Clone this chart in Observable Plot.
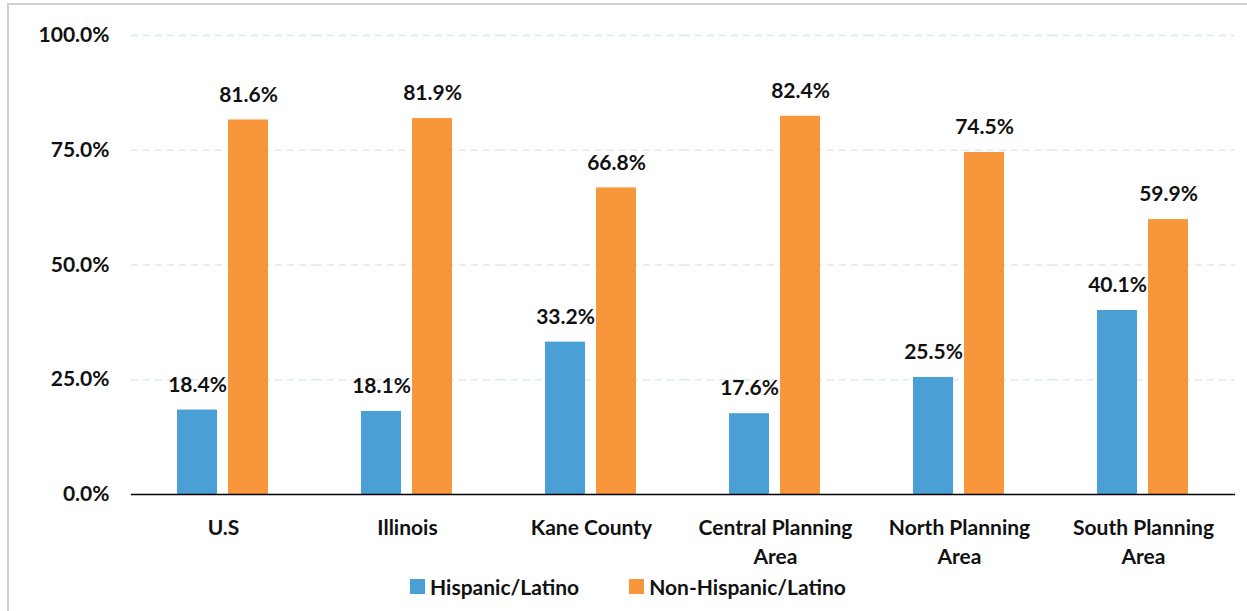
<!DOCTYPE html>
<html>
<head>
<meta charset="utf-8">
<script src="https://cdn.jsdelivr.net/npm/d3@7"></script>
<script src="https://cdn.jsdelivr.net/npm/@observablehq/plot@0.6"></script>
<style>
  html, body { margin: 0; padding: 0; background: #fff; }
  #frame { position: absolute; left: 7px; top: 3px; width: 1300px; height: 700px; border: 2px solid #d0d0d0; box-sizing: border-box; }
  #chart { position: absolute; left: 0; top: 0; }
  #legend { position: absolute; left: 0; top: 574px; width: 1256px; display: flex; justify-content: center; gap: 50px;
            font-family: Lato, "Open Sans", sans-serif; font-weight: bold; font-size: 21px; color: #111; }
  .item { display: flex; align-items: center; gap: 5px; }
  .sw { width: 15px; height: 15px; display: inline-block; }
</style>
</head>
<body>
<div id="frame"></div>
<div id="chart"></div>
<div id="legend"></div>
<script>
const categories = ["U.S", "Illinois", "Kane County", "Central Planning Area", "North Planning Area", "South Planning Area"];
const categoryLabels = ["U.S", "Illinois", "Kane County", "Central Planning\nArea", "North Planning\nArea", "South Planning\nArea"];
const series = ["Hispanic/Latino", "Non-Hispanic/Latino"];
const hispanic = [18.4, 18.1, 33.2, 17.6, 25.5, 40.1];
const nonHispanic = [81.6, 81.9, 66.8, 82.4, 74.5, 59.9];
const colors = ["#4a9fd4", "#f7963b"];
const yTicks = [0, 25, 50, 75, 100];

const data = [];
categories.forEach((c, i) => {
  data.push({cat: c, s: series[0], v: hispanic[i]});
  data.push({cat: c, s: series[1], v: nonHispanic[i]});
});
const labelOf = new Map(categories.map((c, i) => [c, categoryLabels[i]]));

const plot = Plot.plot({
  width: 1247,
  height: 572,
  marginLeft: 130,
  marginRight: 11,
  marginTop: 35,
  marginBottom: 78,
  style: {fontFamily: "Lato, 'Open Sans', sans-serif", fontSize: "21px", fontWeight: "bold", color: "#111", background: "transparent"},
  fx: {domain: categories, padding: 0, label: null},
  x: {domain: series, axis: null, paddingInner: 0.21, paddingOuter: 0.875},
  y: {domain: [0, 100], label: null},
  color: {domain: series, range: colors},
  marks: [
    Plot.axisFx({anchor: "bottom", tickSize: 0, tickPadding: 20, lineHeight: 1.38, label: null, tickFormat: d => labelOf.get(d)}),
    Plot.axisY({ticks: yTicks, tickFormat: d => d.toFixed(1) + "%", label: null, tickSize: 0, tickPadding: 22, line: true}),
    Plot.ruleY(yTicks.filter(d => d > 0), {stroke: "#dce8f4", strokeWidth: 1.5, strokeDasharray: "7,5"}),
    Plot.barY(data, {fx: "cat", x: "s", y: "v", fill: "s"}),
    Plot.text(data, {fx: "cat", x: "s", y: "v", text: d => d.v.toFixed(1) + "%", dy: -25, fill: "#111"}),
    Plot.ruleY([0], {stroke: "#000", strokeWidth: 1.5})
  ]
});
document.getElementById("chart").appendChild(plot);

const legend = document.getElementById("legend");
series.forEach((s, i) => {
  const item = document.createElement("div");
  item.className = "item";
  const sw = document.createElement("span");
  sw.className = "sw";
  sw.style.background = colors[i];
  const lab = document.createElement("span");
  lab.textContent = s;
  item.appendChild(sw);
  item.appendChild(lab);
  legend.appendChild(item);
});
</script>
</body>
</html>
